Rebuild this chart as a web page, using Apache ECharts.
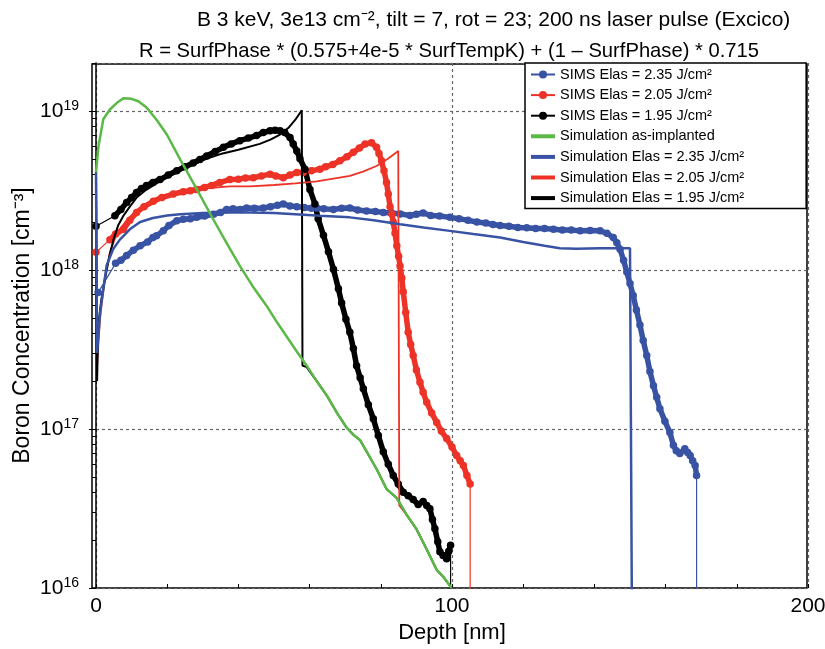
<!DOCTYPE html>
<html><head><meta charset="utf-8">
<script src="https://cdn.jsdelivr.net/npm/echarts@6/dist/echarts.min.js"></script>
<style>html,body{margin:0;padding:0;background:#fff}#c{width:825px;height:649px}</style>
</head><body><div id="c"></div>
<script>
const titleLine1 = 'B 3 keV, 3e13 cm\u207B\u00B2, tilt = 7, rot = 23; 200 ns laser pulse (Excico)';
const titleLine2 = 'R = SurfPhase * (0.575+4e-5 * SurfTempK) + (1 \u2013 SurfPhase) * 0.715';
const xName = 'Depth [nm]';
const yName = 'Boron Concentration [cm\u207B\u00B3]';
const seriesNames = ['SIMS Elas = 2.35 J/cm\u00B2','SIMS Elas = 2.05 J/cm\u00B2','SIMS Elas = 1.95 J/cm\u00B2',
  'Simulation as-implanted','Simulation Elas = 2.35 J/cm\u00B2','Simulation Elas = 2.05 J/cm\u00B2','Simulation Elas = 1.95 J/cm\u00B2'];
const xTickValues = [0, 100, 200];

const simsBlue = [[0.6,7.2e17],[5.5,1.1e18],[7,1.15e18],[8.6,1.23e18],[10.5,1.33e18],[12.4,1.42e18],[14.5,1.5e18],[16,1.6e18],[17,1.64e18],[18.9,1.76e18],[20.5,1.9e18],[22.7,2.04e18],[24.5,2.08e18],[26.5,2.1e18],[28.3,2.14e18],[30.5,2.18e18],[33,2.24e18],[35,2.3e18],[36.7,2.4e18],[38.5,2.42e18],[40.5,2.4e18],[42.3,2.45e18],[44.5,2.44e18],[47,2.45e18],[49,2.5e18],[51,2.55e18],[52.6,2.6e18],[54.5,2.52e18],[56.4,2.5e18],[58.5,2.47e18],[60.5,2.44e18],[62,2.45e18],[64,2.42e18],[66.7,2.4e18],[69,2.44e18],[71.3,2.45e18],[73.5,2.38e18],[76,2.35e18],[78.5,2.33e18],[80.7,2.3e18],[83,2.28e18],[85.5,2.25e18],[88.2,2.2e18],[90,2.24e18],[91.9,2.28e18],[94,2.2e18],[96.5,2.18e18],[99.4,2.14e18],[102,2.1e18],[104.5,2.05e18],[107,2.0e18],[109.5,1.97e18],[111.5,1.93e18],[113.5,1.9e18],[116,1.88e18],[118.5,1.85e18],[121,1.84e18],[123.5,1.82e18],[126,1.82e18],[128.5,1.8e18],[131,1.78e18],[133.5,1.78e18],[136,1.76e18],[138.8,1.77e18],[141.6,1.76e18],[143.5,1.7e18],[145.3,1.6e18],[146.3,1.48e18],[147.2,1.35e18],[148.2,1.15e18],[149.1,9.7e17],[150,8.2e17],[150.9,6.9e17],[151.8,5.6e17],[152.8,4.5e17],[153.7,3.6e17],[154.7,2.9e17],[155.6,2.3e17],[156.6,1.87e17],[157.5,1.58e17],[158.4,1.34e17],[159.8,1.12e17],[161.2,9.5e16],[162.2,7.9e16],[163,7.3e16],[164,7e16],[165.4,7.5e16],[166.2,7.1e16],[166.9,6.8e16],[167.6,6.3e16],[168.3,5.9e16],[168.7,5.1e16],[168.7,1e14]];
const simsRed = [[0,1.29e18],[3.9,1.55e18],[5.5,1.68e18],[7.7,1.8e18],[9.5,2.05e18],[11.4,2.3e18],[13.5,2.5e18],[16.1,2.7e18],[18.5,2.85e18],[21.7,3e18],[24.5,3.1e18],[26.5,3.15e18],[28.3,3.2e18],[30.5,3.3e18],[32.5,3.4e18],[34.8,3.55e18],[37.6,3.7e18],[40,3.72e18],[42,3.78e18],[44.2,3.8e18],[46.5,3.9e18],[48.9,4e18],[50.5,3.9e18],[52.6,3.8e18],[54.5,3.95e18],[56.4,4.1e18],[58.2,4.1e18],[60.5,4.2e18],[62.9,4.3e18],[64.5,4.45e18],[66.5,4.6e18],[68.5,4.85e18],[70.5,5.15e18],[72.3,5.5e18],[74,5.85e18],[75.6,6.2e18],[77.4,6.3e18],[78.8,5.9e18],[79.5,5.4e18],[80.2,4.85e18],[80.9,4.2e18],[81.6,3.55e18],[82.1,3e18],[82.6,2.5e18],[83.1,2.25e18],[83.5,2e18],[84,1.7e18],[84.5,1.42e18],[85,1.22e18],[85.4,1.06e18],[85.9,8.9e17],[86.3,7.3e17],[87,5.4e17],[87.7,4.06e17],[88.4,3.4e17],[89.1,2.9e17],[90,2.35e17],[91,1.97e17],[91.9,1.7e17],[92.9,1.47e17],[94.3,1.26e17],[95.7,1.1e17],[97,9.7e16],[98.5,8.7e16],[100,7.7e16],[101.3,6.8e16],[102.3,6.3e16],[103.2,5.9e16],[104.2,5.1e16],[105.1,4.5e16],[105.1,1e14]];
const simsBlack = [[0,1.88e18],[5.3,2.19e18],[7,2.4e18],[8.6,2.65e18],[10,2.85e18],[11.4,3.07e18],[12.8,3.25e18],[14.2,3.4e18],[16,3.55e18],[18,3.7e18],[20.3,3.95e18],[22.7,4.2e18],[25,4.45e18],[27.3,4.7e18],[29.2,4.95e18],[31.1,5.2e18],[33.5,5.55e18],[35.8,5.9e18],[38,6.2e18],[40.4,6.5e18],[42.8,6.75e18],[45.1,7e18],[47,7.3e18],[48.9,7.5e18],[50.3,7.55e18],[51.7,7.5e18],[53,7.3e18],[54.5,6.8e18],[55.4,6.2e18],[56.4,5.6e18],[57.3,5e18],[58.7,4.3e18],[60.1,3.2e18],[61.5,2.6e18],[62.4,2.1e18],[63.9,1.65e18],[65.3,1.3e18],[66.7,1.01e18],[68.1,7.6e17],[69,6.2e17],[70.2,4.9e17],[71.3,4.06e17],[72.3,3.2e17],[73.2,2.5e17],[74.2,2.1e17],[75.1,1.79e17],[76.5,1.42e17],[77.9,1.16e17],[79.3,9.1e16],[80.7,7.2e16],[82.1,6e16],[83.5,5.1e16],[84.9,4.5e16],[86.3,4e16],[87.7,3.8e16],[89.1,3.6e16],[90.5,3.35e16],[91.9,3.5e16],[92.9,3.3e16],[93.8,3.15e16],[94.5,2.7e16],[95.2,2.36e16],[96,1.95e16],[96.6,1.69e16],[97.5,1.6e16],[98.5,1.53e16],[99.1,1.7e16],[99.6,1.86e16],[99.6,1e14]];
const simAsImplanted = [[0,4.1e18],[0.7,6e18],[2.05,8.85e18],[3.9,1.02e19],[5.8,1.12e19],[7.7,1.2e19],[10,1.19e19],[11.9,1.15e19],[14.2,1.05e19],[17,8.8e18],[19.9,7.1e18],[23.6,4.97e18],[28.3,3.22e18],[32.9,2.09e18],[36.5,1.5e18],[40.4,1.06e18],[44,7.9e17],[47.9,5.96e17],[50.8,4.7e17],[53.6,3.8e17],[56.5,3.05e17],[59.2,2.5e17],[62,2.0e17],[65,1.6e17],[67.8,1.25e17],[70.4,1.02e17],[72.3,9.2e16],[74.2,8.5e16],[76.5,6.9e16],[79,5.5e16],[81.6,4.2e16],[84.4,3.7e16],[87.2,2.9e16],[90,2.35e16],[92.9,1.75e16],[95.7,1.3e16],[97.5,1.18e16],[99.9,1.0e16]];
const simBlue = [[0,4.1e18],[0.3,3e17],[1.2,5.5e17],[3,1.07e18],[4.8,1.35e18],[6.7,1.55e18],[9.5,1.8e18],[12.4,2.0e18],[16,2.12e18],[20,2.2e18],[23.6,2.24e18],[30,2.28e18],[37.6,2.3e18],[43.3,2.3e18],[50,2.28e18],[56,2.24e18],[62.9,2.19e18],[71.3,2.14e18],[78,2.05e18],[85.4,1.94e18],[92,1.85e18],[99.4,1.76e18],[106,1.68e18],[113.5,1.6e18],[120,1.5e18],[126,1.42e18],[130.3,1.37e18],[135,1.36e18],[141.6,1.37e18],[150,1.37e18],[150.5,1e16],[150.6,1e14]];
const simRed = [[0,4.1e18],[0.3,2.5e17],[1.1,4.9e17],[2.5,9e17],[3.9,1.29e18],[5.2,1.55e18],[6.7,1.8e18],[9,2.1e18],[11.5,2.35e18],[14.2,2.5e18],[18,2.8e18],[23.6,3.07e18],[30,3.25e18],[37.6,3.35e18],[43.3,3.35e18],[50,3.42e18],[56,3.5e18],[62,3.6e18],[66.7,3.75e18],[71.3,3.9e18],[75,4.15e18],[78.8,4.5e18],[82,5e18],[84.9,5.6e18],[85.2,3.3e16],[87.2,2.9e16],[90,2.35e16],[92.9,1.75e16],[95.7,1.3e16],[97.5,1.18e16],[99.9,1e16]];
const simBlack = [[0,4.1e18],[0.3,2e17],[0.65,4.5e17],[1.5,6.5e17],[2.5,8.7e17],[3.7,1.2e18],[4.9,1.55e18],[6.2,1.9e18],[7.7,2.19e18],[9.5,2.5e18],[11.4,2.85e18],[14.2,3.2e18],[17,3.5e18],[20,3.85e18],[23.6,4.2e18],[27.3,4.6e18],[31,5.0e18],[35,5.35e18],[40,5.7e18],[46,6.2e18],[49,6.6e18],[51.7,7.1e18],[54,7.8e18],[56,8.8e18],[57.8,1.01e19],[58,2.5e17],[59.2,2.45e17],[62,2.0e17],[65,1.6e17],[67.8,1.25e17],[70.4,1.02e17],[72.3,9.2e16],[74.2,8.5e16],[76.5,6.9e16],[79,5.5e16],[81.6,4.2e16],[84.4,3.7e16],[87.2,2.9e16],[90,2.35e16],[92.9,1.75e16],[95.7,1.3e16],[97.5,1.18e16],[99.9,1e16]];

const FONT = 'Liberation Sans';
const BLUE = '#3953a4', RED = '#ed3327', GREEN = '#5ab947', BLACK = '#000000';
const yMin = 1e16, yMax = 2e19;
const minorTickVals = [];
for (let n = 16; n <= 19; n++) for (let k = 2; k <= 9; k++) {
  const v = n + Math.log10(k); if (v <= Math.log10(yMax)) minorTickVals.push(v);
}
const dotted = {color: '#666', width: 1.2, type: [3, 3]};

function sims(name, data, color) {
  return {name, type: 'line', data, xAxisIndex: 0, yAxisIndex: 0, symbol: 'circle', symbolSize: 7.5,
    showSymbol: true, lineStyle: {color, width: 1.2}, itemStyle: {color}, z: 3, silent: true};
}
function simsBand(name, data, color) {
  return {name, type: 'line', data: data.slice(1, -1), xAxisIndex: 0, yAxisIndex: 0, symbol: 'none', showSymbol: false,
    lineStyle: {color, width: 5.5}, itemStyle: {color}, z: 3, silent: true};
}
function sim(name, data, color, w, z) {
  return {name, type: 'line', data, xAxisIndex: 0, yAxisIndex: 0, symbol: 'none', showSymbol: false,
    lineStyle: {color, width: w}, itemStyle: {color}, z: z, silent: true};
}
const legendData = seriesNames.map((n, i) => i < 3
  ? {name: n, lineStyle: {width: 2}}
  : {name: n, itemStyle: {opacity: 0}, lineStyle: {width: 4}});

const chart = echarts.init(document.getElementById('c'), null, {renderer: 'canvas'});
chart.setOption({
  animation: false,
  backgroundColor: '#fff',
  textStyle: {fontFamily: FONT},
  title: [
    {text: titleLine1, left: 192, top: 5, textStyle: {fontFamily: FONT, fontSize: 21, fontWeight: 'normal', color: '#000'}},
    {text: titleLine2, left: 134, top: 36, textStyle: {fontFamily: FONT, fontSize: 20.2, fontWeight: 'normal', color: '#000'}}
  ],
  legend: {
    orient: 'vertical', left: 525, top: 63, padding: [4, 62, 3, 4], itemWidth: 24, itemHeight: 10, itemGap: 5.6,
    borderColor: '#000', borderWidth: 1.5, backgroundColor: '#fff', z: 10,
    textStyle: {fontFamily: FONT, fontSize: 14.5, lineHeight: 14, color: '#000'}, data: legendData
  },
  grid: [
    {left: 96, right: 17, top: 63, bottom: 61, show: false, containLabel: false, outerBoundsMode: 'none'},
    {left: 92, right: 18, top: 64, bottom: 61, show: true, borderColor: '#000', borderWidth: 1.5, backgroundColor: 'transparent', containLabel: false, outerBoundsMode: 'none'}
  ],
  xAxis: [
    {type: 'value', gridIndex: 0, min: 0, max: 200, interval: 20, name: xName, nameLocation: 'middle', nameGap: 31,
      nameTextStyle: {fontFamily: FONT, fontSize: 22, color: '#000'},
      axisLine: {show: false}, axisTick: {show: true, inside: true, length: 4, lineStyle: {color: '#000'}},
      axisLabel: {margin: 8, fontFamily: FONT, fontSize: 21, color: '#000', formatter: v => xTickValues.includes(v) ? String(v) : ''},
      splitLine: {show: false}},
    {type: 'value', gridIndex: 0, min: 0, max: 200, interval: 100, position: 'bottom',
      axisLine: {show: false}, axisTick: {show: false}, axisLabel: {show: false}, splitLine: {show: true, lineStyle: dotted}},
    {type: 'value', gridIndex: 1, min: 0, max: 1, show: false}
  ],
  yAxis: [
    {type: 'log', logBase: 10, gridIndex: 0, min: yMin, max: yMax, offset: 4, name: yName, nameLocation: 'middle', nameGap: 58,
      nameMoveOverlap: false,
      nameTextStyle: {fontFamily: FONT, fontSize: 23, color: '#000'},
      axisLine: {show: true, lineStyle: {color: '#000', width: 1.5}},
      axisTick: {show: true, length: 7, lineStyle: {color: '#000'}},
      axisLabel: {showMaxLabel: false, margin: 13,
        formatter: v => '{b|10}{s|' + Math.round(Math.log10(v)) + '}',
        rich: {b: {fontFamily: FONT, fontSize: 21, color: '#000', lineHeight: 24, verticalAlign: 'middle'},
               s: {fontFamily: FONT, fontSize: 14, color: '#000', lineHeight: 13, verticalAlign: 'top'}}},
      splitLine: {show: true, lineStyle: dotted}},
    {type: 'value', gridIndex: 0, min: 16, max: Math.log10(yMax), offset: 4, position: 'left',
      axisLine: {show: false}, axisLabel: {show: false}, splitLine: {show: false},
      axisTick: {show: true, length: 4, customValues: minorTickVals, lineStyle: {color: '#000'}}},
    {type: 'value', gridIndex: 1, min: 0, max: 1, show: false}
  ],
  series: [
    sims(seriesNames[0], simsBlue, BLUE),
    sims(seriesNames[1], simsRed, RED),
    sims(seriesNames[2], simsBlack, BLACK),
    simsBand(seriesNames[0], simsBlue, BLUE),
    simsBand(seriesNames[1], simsRed, RED),
    simsBand(seriesNames[2], simsBlack, BLACK),
    sim(seriesNames[3], simAsImplanted, GREEN, 2.5, 6),
    sim(seriesNames[4], simBlue, BLUE, 2.5, 5),
    sim(seriesNames[5], simRed, RED, 1.8, 4),
    sim(seriesNames[6], simBlack, BLACK, 2, 4)
  ]
});
</script></body></html>
